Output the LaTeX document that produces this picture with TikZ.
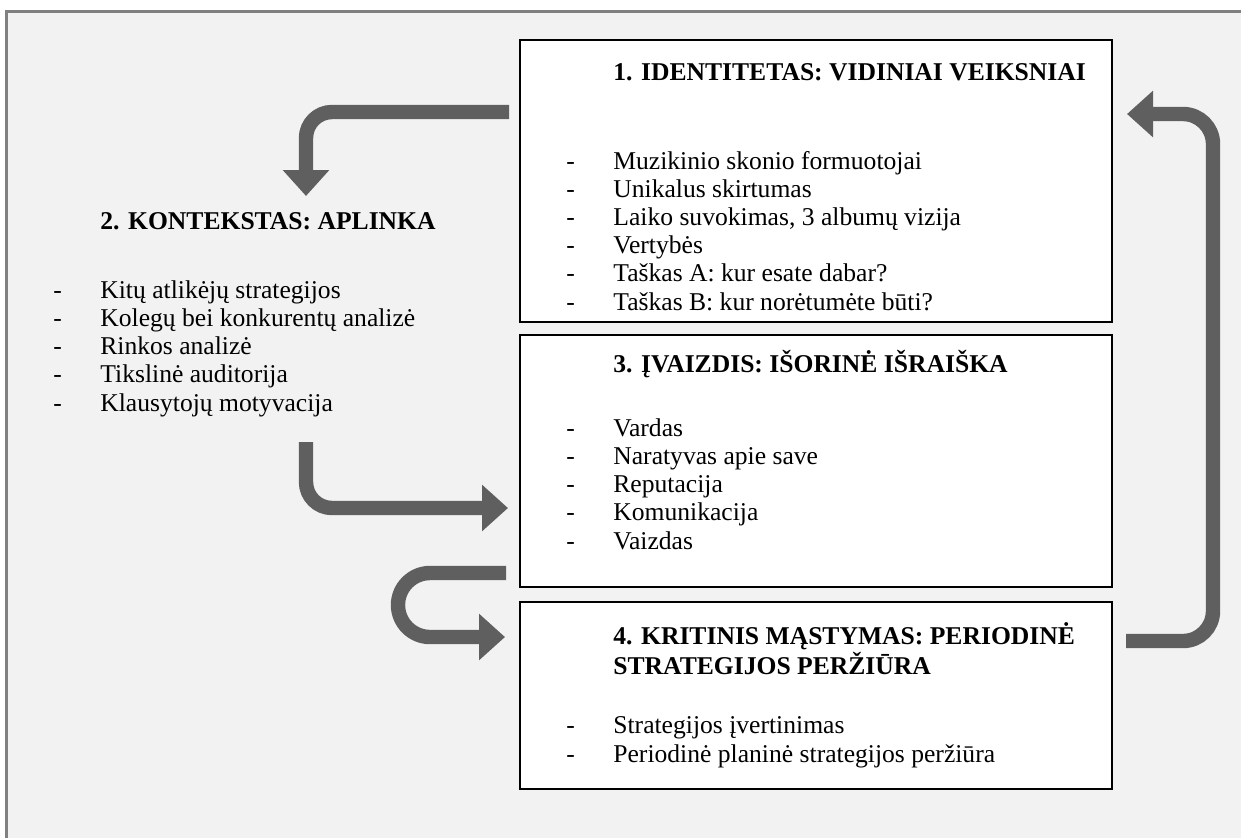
\documentclass[tikz,border=0pt]{standalone}
\usepackage{fontspec}
\setmainfont{Liberation Serif}
\usetikzlibrary{arrows.meta,positioning}
\definecolor{FrameGray}{HTML}{808080}
\definecolor{PageGray}{HTML}{F2F2F2}
\definecolor{ArrowGray}{HTML}{5F5F5F}
\tikzset{
  stagebox/.style={rectangle,draw=black,line width=1.2pt,fill=white,minimum width=296pt,inner sep=0pt,outer sep=0pt},
  stagetext/.style={anchor=base west,align=left,inner sep=0pt,font=\fontsize{12.8}{14.1}\selectfont},
  bigarrow/.style={-{Triangle[length=13pt,width=22.5pt]},line width=7.2pt,color=ArrowGray,rounded corners=13pt},
}
\newcommand{\itm}[1]{\makebox[23.5pt][l]{-}#1}
\newcommand{\ttl}[1]{\hspace*{23.5pt}\textbf{#1}}

\begin{document}
\begin{tikzpicture}[x=0.5pt,y=-0.5pt]
  \useasboundingbox (0,0) rectangle (1241,837);
  \fill[white] (0,0) rectangle (1241,837);
  \begin{scope}
    \clip (0,0) rectangle (1241,837);
    \draw[draw=FrameGray,fill=PageGray,line width=1.5pt] (6,11) rectangle (1260,860);
  \end{scope}

  % stages
  \node[stagebox, minimum height=141pt, anchor=north west] (box1) at (520,40) {};
  \node[stagebox, minimum height=126pt, below=6.5pt of box1] (box3) {};
  \node[stagebox, minimum height=93.5pt, below=7.5pt of box3] (box4) {};

  % text blocks, placed by the baseline of their last line
  \node[stagetext] (idtext) at ([xshift=23pt,yshift=-135pt]box1.north west)
    {\ttl{1. IDENTITETAS: VIDINIAI VEIKSNIAI}\\[30.4pt]
     \itm{Muzikinio skonio formuotojai}\\
     \itm{Unikalus skirtumas}\\
     \itm{Laiko suvokimas, 3 albumų vizija}\\
     \itm{Vertybės}\\
     \itm{Taškas A: kur esate dabar?}\\
     \itm{Taškas B: kur norėtumėte būti?}};
  \node[stagetext] (imgtext) at ([xshift=23pt,yshift=-107pt]box3.north west)
    {\ttl{3. ĮVAIZDIS: IŠORINĖ IŠRAIŠKA}\\[17.9pt]
     \itm{Vardas}\\
     \itm{Naratyvas apie save}\\
     \itm{Reputacija}\\
     \itm{Komunikacija}\\
     \itm{Vaizdas}};
  \node[stagetext] (crittext) at ([xshift=23pt,yshift=-80pt]box4.north west)
    {\ttl{4. KRITINIS MĄSTYMAS: PERIODINĖ}\\[0.9pt]
     \ttl{STRATEGIJOS PERŽIŪRA}\\[15.4pt]
     \itm{Strategijos įvertinimas}\\
     \itm{Periodinė planinė strategijos peržiūra}};
  \node[stagetext] (ctxtext) at (53,411)
    {\ttl{2. KONTEKSTAS: APLINKA}\\[20.4pt]
     \itm{Kitų atlikėjų strategijos}\\
     \itm{Kolegų bei konkurentų analizė}\\
     \itm{Rinkos analizė}\\
     \itm{Tikslinė auditorija}\\
     \itm{Klausytojų motyvacija}};

  % arrow ends
  \coordinate (a1) at ([xshift=-5.5pt,yshift=-36pt]box1.north west);
  \coordinate (ctxin) at (306,196);
  \coordinate (a2) at (306,442);
  \coordinate (box3in) at (508,508);
  \coordinate (a3) at ([xshift=-7pt]box3.south west |- 0,573);
  \coordinate (box4in) at (505,637);
  \coordinate (a4) at ([xshift=7pt]box4.east |- 0,641);
  \coordinate (box1in) at (1127,114);

  \draw[bigarrow] (a1) -| (ctxin);
  \draw[bigarrow] (a2) |- (box3in);
  \draw[bigarrow, rounded corners=16pt] (a3) -- ++(-108,0) -- ++(0,64) -- (box4in);
  \draw[bigarrow, rounded corners=15pt] (a4) -- ++(87,0) |- (box1in);
\end{tikzpicture}
\end{document}
